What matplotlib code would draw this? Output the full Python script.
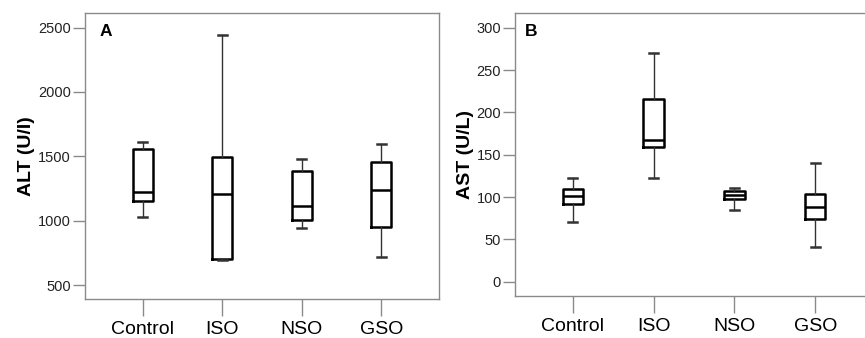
import matplotlib
matplotlib.use("Agg")
import matplotlib.pyplot as plt

plt.rcParams['font.family'] = ['Liberation Sans', 'DejaVu Sans']

groups = ["Control", "ISO", "NSO", "GSO"]

# ALT (U/l): lower whisker, Q1, median, Q3, upper whisker
alt_low = [1030, 695, 942, 717]
alt_q1 = [1151, 702, 1004, 952]
alt_med = [1223, 1211, 1115, 1242]
alt_q3 = [1560, 1495, 1386, 1459]
alt_high = [1611, 2440, 1477, 1598]

# AST (U/L)
ast_low = [71, 123, 84.7, 41.4]
ast_q1 = [91.4, 159.5, 97.3, 73.7]
ast_med = [101.6, 167.4, 102.4, 88.6]
ast_q3 = [110, 215.4, 107.5, 103.2]
ast_high = [123, 269.7, 110.3, 140]

alt_ticks = [500, 1000, 1500, 2000, 2500]
ast_ticks = [0, 50, 100, 150, 200, 250, 300]

spine_col = '#8a8a8a'


def make_stats(lo, q1, med, q3, hi):
    return [dict(whislo=a, q1=b, med=c, q3=d, whishi=e, fliers=[], label=g)
            for a, b, c, d, e, g in zip(lo, q1, med, q3, hi, groups)]


def draw_panel(ax, stats, ticks, ylim, xlim, ylabel, letter, letter_x):
    ax.bxp(stats, positions=range(1, len(groups) + 1), widths=0.25,
           showfliers=False, capwidths=0.11,
           boxprops=dict(color='black', linewidth=1.8),
           medianprops=dict(color='black', linewidth=1.8),
           whiskerprops=dict(color='#333333', linewidth=1.0),
           capprops=dict(color='#333333', linewidth=1.8))
    ax.set_xlim(*xlim)
    ax.set_ylim(*ylim)
    ax.set_yticks(ticks)
    ax.set_xticks(range(1, len(groups) + 1))
    ax.set_xticklabels(groups, fontsize=14)
    ax.tick_params(axis='y', labelsize=10.5, length=9, width=1,
                   color=spine_col, pad=1, labelcolor='#222222')
    ax.tick_params(axis='x', length=12, width=1, color=spine_col, pad=4)
    for s in ax.spines.values():
        s.set_color(spine_col)
        s.set_linewidth(1.0)
    ax.set_ylabel(ylabel, fontsize=14, fontweight='bold', labelpad=2)
    ax.text(letter_x, 0.933, letter, transform=ax.transAxes, fontsize=12.5,
            fontweight='bold', va='center', ha='left')


fig = plt.figure(figsize=(8.65, 3.38), dpi=100)
ax1 = fig.add_axes([85 / 865, 39 / 338, 354 / 865, 286.3 / 338])
ax2 = fig.add_axes([515 / 865, 42.3 / 338, 358 / 865, 283 / 338])

draw_panel(ax1, make_stats(alt_low, alt_q1, alt_med, alt_q3, alt_high),
           alt_ticks, (392, 2616), (0.274, 4.726), "ALT (U/I)", "A", 0.042)
draw_panel(ax2, make_stats(ast_low, ast_q1, ast_med, ast_q3, ast_high),
           ast_ticks, (-16.5, 317.7), (0.286, 4.714), "AST (U/L)", "B", 0.028)

fig.savefig("out.png", dpi=100)
